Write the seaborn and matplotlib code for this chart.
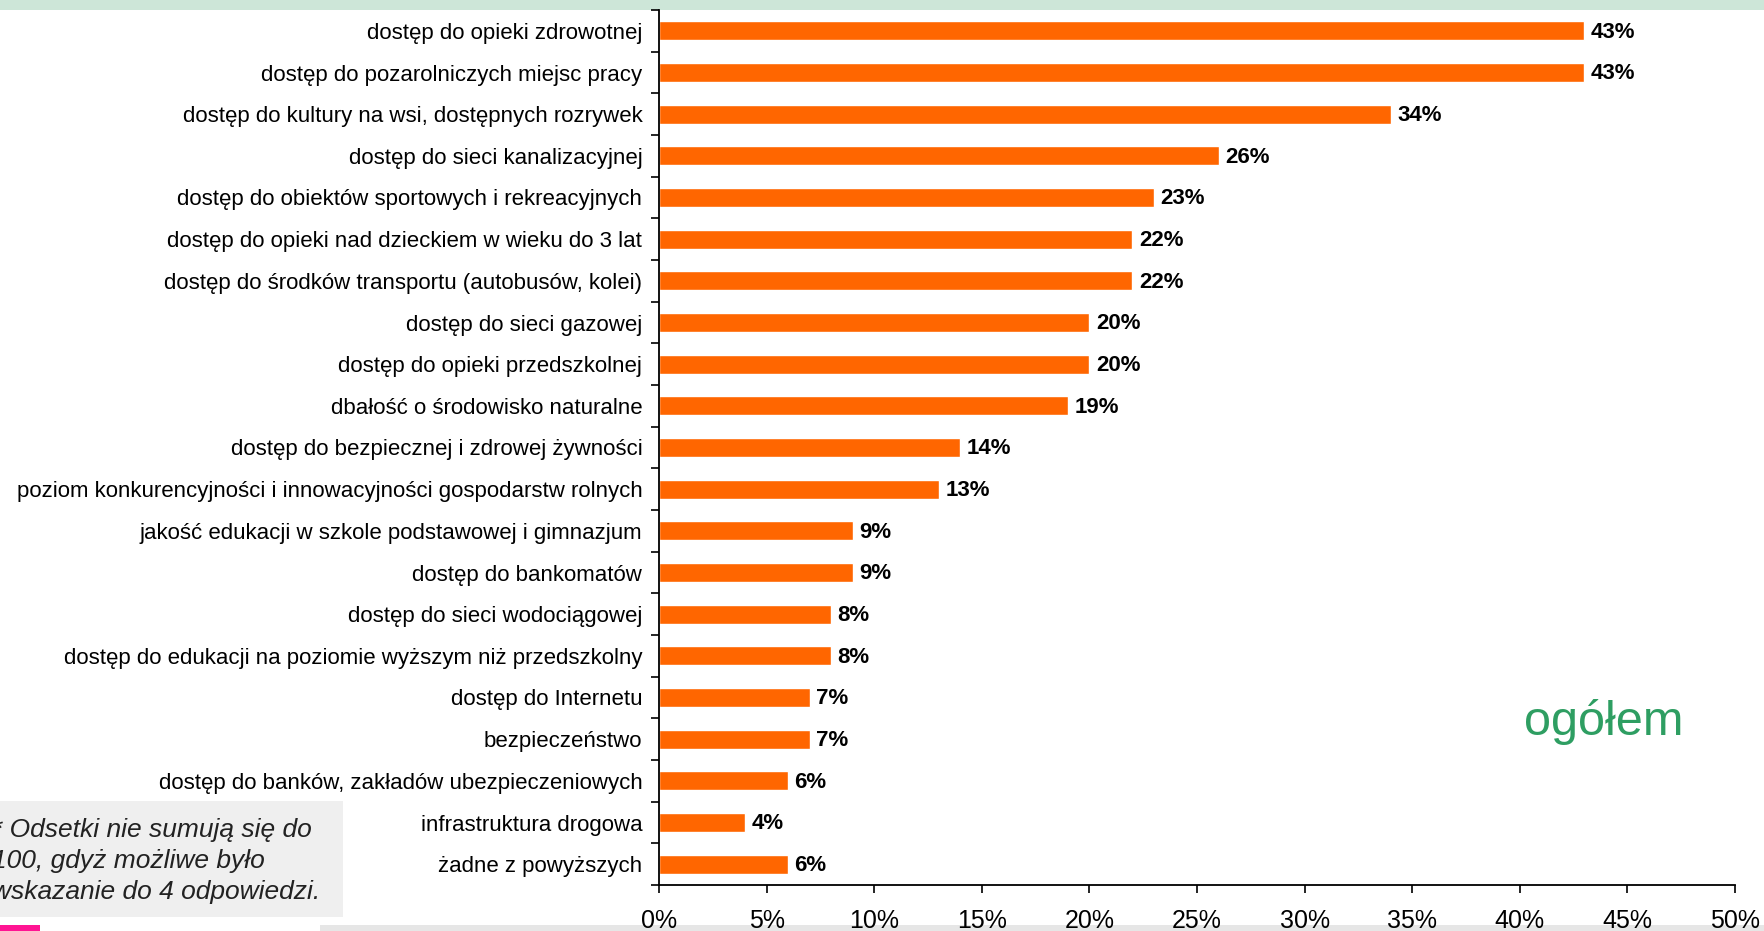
import matplotlib
matplotlib.use("Agg")
import matplotlib.pyplot as plt
import seaborn as sns
import pandas as pd
from matplotlib.patches import Rectangle

categories = [
    "dostęp do opieki zdrowotnej",
    "dostęp do pozarolniczych miejsc pracy",
    "dostęp do kultury na wsi, dostępnych rozrywek",
    "dostęp do sieci kanalizacyjnej",
    "dostęp do obiektów sportowych i rekreacyjnych",
    "dostęp do opieki nad dzieckiem w wieku do 3 lat",
    "dostęp do środków transportu (autobusów, kolei)",
    "dostęp do sieci gazowej",
    "dostęp do opieki przedszkolnej",
    "dbałość o środowisko naturalne",
    "dostęp do bezpiecznej i zdrowej żywności",
    "poziom konkurencyjności i innowacyjności gospodarstw rolnych",
    "jakość edukacji w szkole podstawowej i gimnazjum",
    "dostęp do bankomatów",
    "dostęp do sieci wodociągowej",
    "dostęp do edukacji na poziomie wyższym niż przedszkolny",
    "dostęp do Internetu",
    "bezpieczeństwo",
    "dostęp do banków, zakładów ubezpieczeniowych",
    "infrastruktura drogowa",
    "żadne z powyższych",
]
values = [43, 43, 34, 26, 23, 22, 22, 20, 20, 19, 14, 13, 9, 9, 8, 8, 7, 7, 6, 4, 6]
xticks = [0, 5, 10, 15, 20, 25, 30, 35, 40, 45, 50]
xtick_labels = [f"{t}%" for t in xticks]
note_text = "* Odsetki nie sumują się do\n100, gdyż możliwe było\nwskazanie do 4 odpowiedzi."
corner_label = "ogółem"

sns.set_theme(style="white")
plt.rcParams["font.family"] = ["Liberation Sans", "DejaVu Sans"]

W, H = 1765, 931
fig = plt.figure(figsize=(W / 100, H / 100), dpi=100)
fig.patch.set_facecolor("white")

# decorative bands at top and bottom
fig.add_artist(Rectangle((0, 1 - 10 / H), 1, 10 / H, transform=fig.transFigure,
                         facecolor="#cde6d8", edgecolor="none", zorder=0))
fig.add_artist(Rectangle((320 / W, 0), 1, 6 / H, transform=fig.transFigure,
                         facecolor="#e6e6e6", edgecolor="none", zorder=0))
fig.add_artist(Rectangle((0, 0), 40 / W, 6 / H, transform=fig.transFigure,
                         facecolor="#ff1493", edgecolor="none", zorder=0))
# note box
fig.add_artist(Rectangle((0, 1 - 917 / H), 343 / W, 116 / H, transform=fig.transFigure,
                         facecolor="#efefef", edgecolor="none", zorder=0))
fig.text(-8 / W, 1 - 861 / H, note_text, ha="left", va="center", fontsize=19,
         style="italic", color="#222222", linespacing=1.35)

ax = fig.add_axes([659 / W, 1 - 885 / H, (1735 - 659) / W, (885 - 10) / H])
df = pd.DataFrame({"cat": categories, "val": values})
sns.barplot(data=df, x="val", y="cat", color="#ff6600", saturation=1, width=0.46,
            orient="h", ax=ax)

ax.set_xlim(0, 50)
ax.set_ylim(len(categories) - 0.5, -0.5)
ax.set_xlabel("")
ax.set_ylabel("")
ax.set_xticks(xticks)
ax.set_xticklabels(xtick_labels, fontsize=18)
ax.set_yticks(range(len(categories)))
ax.set_yticklabels(categories, fontsize=16)
ax.set_yticks([i - 0.5 for i in range(len(categories) + 1)], minor=True)
ax.tick_params(axis="y", which="major", length=0, pad=12, colors="black")
ax.tick_params(axis="y", which="minor", length=6, width=1.2, color="black", left=True)
ax.tick_params(axis="x", which="major", length=6, width=1.2, color="black",
               bottom=True, pad=11, labelcolor="black")
for s in ["top", "right"]:
    ax.spines[s].set_visible(False)
for s in ["left", "bottom"]:
    ax.spines[s].set_color("black")
    ax.spines[s].set_linewidth(1.3)
ax.set_facecolor("none")

for i, v in enumerate(values):
    ax.text(v + 0.3, i + 0.03, f"{v}%", va="center", ha="left", fontsize=16,
            fontweight="bold", color="black")

fig.text(1604 / W, 1 - 722 / H, corner_label, ha="center", va="center",
         fontsize=35, color="#2e9e62")

fig.savefig("out.png", dpi=100)
